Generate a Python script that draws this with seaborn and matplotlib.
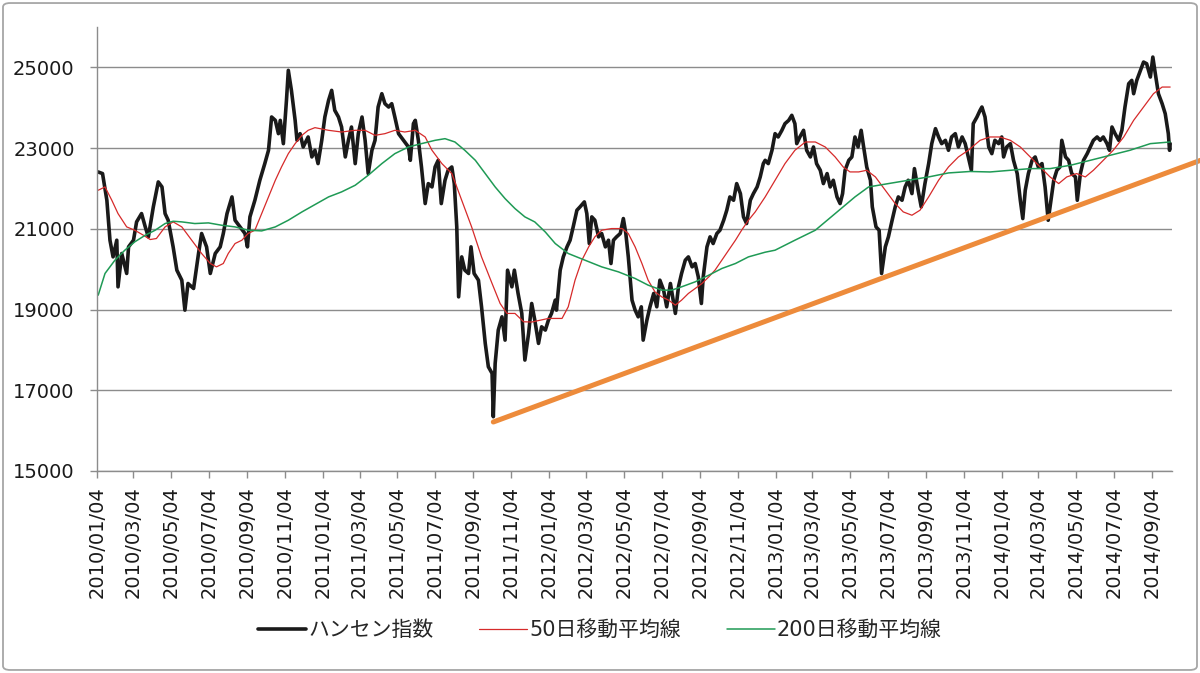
import pandas as pd
import seaborn as sns
import matplotlib.pyplot as plt
import matplotlib.dates as mdates
from matplotlib.patches import FancyBboxPatch

START = pd.Timestamp('2010-01-04')

# Hang Seng index (days since 2010/01/04, level)
hsi_days = [2, 9, 16, 21, 26, 32, 34, 40, 48, 51, 59, 64, 72, 78, 83, 91, 99, 105, 110, 115,
            123, 129, 137, 142, 147, 156, 164, 169, 177, 183, 191, 199, 204, 210, 218, 223, 231, 239, 243, 247,
            255, 263, 271, 277, 282, 288, 293, 296, 301, 306, 309, 314, 320, 323, 328, 333, 341, 347, 352, 357,
            363, 368, 374, 379, 384, 390, 395, 401, 406, 411, 417, 422, 428, 433, 438, 444, 449, 454, 460, 465,
            471, 476, 481, 487, 495, 503, 506, 511, 514, 519, 524, 530, 535, 541, 546, 551, 556, 562, 567, 573,
            577, 581, 584, 589, 594, 600, 604, 609, 616, 621, 627, 632, 638, 640, 643, 648, 654, 659, 663, 670,
            674, 680, 686, 691, 697, 702, 707, 713, 718, 724, 729, 734, 740, 742, 748, 753, 759, 764, 769, 775,
            780, 787, 791, 795, 799, 804, 810, 815, 821, 826, 830, 834, 839, 845, 850, 854, 858, 864, 869, 874,
            879, 882, 888, 893, 899, 904, 909, 915, 920, 926, 934, 939, 944, 950, 955, 961, 966, 971, 976, 979,
            985, 990, 995, 1001, 1006, 1012, 1017, 1022, 1028, 1033, 1039, 1044, 1049, 1055, 1060, 1066, 1071, 1076, 1079, 1084,
            1090, 1095, 1100, 1106, 1111, 1117, 1122, 1127, 1130, 1135, 1141, 1146, 1152, 1157, 1162, 1168, 1173, 1179, 1184, 1189,
            1195, 1200, 1204, 1208, 1214, 1219, 1224, 1229, 1234, 1238, 1243, 1249, 1252, 1258, 1263, 1267, 1273, 1278, 1284, 1289,
            1294, 1300, 1305, 1310, 1316, 1320, 1326, 1331, 1337, 1343, 1348, 1354, 1359, 1364, 1370, 1375, 1380, 1386, 1391, 1397,
            1402, 1407, 1412, 1415, 1421, 1426, 1429, 1434, 1440, 1445, 1450, 1456, 1461, 1464, 1469, 1475, 1480, 1486, 1491, 1495,
            1499, 1504, 1510, 1515, 1520, 1526, 1531, 1536, 1539, 1545, 1550, 1555, 1558, 1564, 1569, 1574, 1580, 1583, 1588, 1593,
            1599, 1604, 1609, 1615, 1620, 1625, 1631, 1635, 1639, 1644, 1650, 1655, 1660, 1666, 1671, 1674, 1679, 1685, 1690, 1695,
            1701, 1705, 1709, 1714, 1720, 1725, 1730, 1732, 1733]
hsi_vals = [22408, 22368, 21707, 20717, 20304, 20717, 19562, 20388, 19893, 20552, 20717, 21171, 21377, 21047, 20800, 21542, 22161, 22037, 21377, 21212,
            20552, 19975, 19727, 18985, 19645, 19521, 20388, 20883, 20552, 19893, 20388, 20552, 20883, 21377, 21790, 21212, 21047, 20883, 20552, 21295,
            21707, 22202, 22615, 22945, 23770, 23687, 23357, 23687, 23110, 24182, 24925, 24430, 23687, 23192, 23357, 23027, 23275, 22780, 22945, 22615,
            23192, 23770, 24182, 24430, 23935, 23770, 23522, 22780, 23192, 23522, 22615, 23357, 23770, 23192, 22368, 22945, 23192, 24017, 24347, 24100,
            24017, 24100, 23770, 23357, 23192, 23027, 22697, 23605, 23687, 23192, 22532, 21625, 22120, 22037, 22532, 22697, 21625, 22202, 22450, 22532,
            22120, 21047, 19314, 20304, 19975, 19893, 20552, 19893, 19727, 19067, 18160, 17582, 17418, 16344, 17666, 18490, 18819, 18242, 19975, 19562,
            19975, 19398, 18903, 17748, 18408, 19150, 18737, 18160, 18572, 18490, 18737, 18903, 19232, 18985, 19975, 20304, 20552, 20717, 21047, 21460,
            21542, 21666, 21377, 20635, 21295, 21212, 20800, 20883, 20552, 20717, 20140, 20717, 20800, 20883, 21254, 20883, 20304, 19232, 18985, 18819,
            19067, 18242, 18737, 19067, 19398, 19067, 19727, 19480, 19067, 19645, 18903, 19562, 19893, 20222, 20304, 20057, 20140, 19810, 19150, 19810,
            20552, 20800, 20635, 20883, 20965, 21212, 21460, 21790, 21707, 22120, 21872, 21295, 21130, 21707, 21872, 22037, 22285, 22615, 22697, 22615,
            22945, 23357, 23275, 23440, 23605, 23687, 23811, 23605, 23110, 23275, 23440, 22945, 22780, 23027, 22615, 22450, 22120, 22368, 22037, 22202,
            21790, 21625, 21872, 22450, 22697, 22780, 23275, 23027, 23440, 23027, 22532, 22202, 21542, 21047, 20965, 19893, 20552, 20800, 21212, 21542,
            21790, 21707, 22037, 22202, 21872, 22491, 21955, 21542, 22120, 22615, 23110, 23481, 23275, 23110, 23192, 22945, 23275, 23357, 23027, 23275,
            23110, 22780, 22450, 23605, 23770, 23935, 24017, 23770, 23027, 22862, 23192, 23110, 23275, 22780, 23027, 23110, 22697, 22368, 21707, 21254,
            21955, 22368, 22697, 22780, 22532, 22615, 22037, 21212, 21542, 22202, 22450, 22532, 23192, 22780, 22697, 22368, 22285, 21707, 22368, 22697,
            22862, 23027, 23192, 23275, 23192, 23275, 23110, 22945, 23522, 23357, 23192, 23440, 24017, 24595, 24677, 24347, 24677, 24925, 25131, 25090,
            24760, 25255, 24842, 24347, 24100, 23852, 23357, 22945, 23110]

# 50-day moving average
ma50_days = [2, 13, 24, 34, 48, 61, 75, 86, 96, 110, 123, 137, 153, 169, 183, 193, 204, 212, 223, 234,
             244, 255, 266, 277, 288, 298, 309, 320, 331, 341, 352, 374, 395, 417, 433, 449, 465, 481, 497, 514,
             530, 541, 557, 573, 589, 605, 621, 638, 651, 662, 675, 689, 702, 729, 751, 761, 772, 783, 794, 804,
             815, 831, 848, 858, 869, 880, 890, 901, 912, 923, 934, 944, 955, 966, 977, 988, 998, 1009, 1020, 1031,
             1041, 1052, 1063, 1079, 1095, 1111, 1127, 1144, 1160, 1176, 1192, 1205, 1216, 1230, 1243, 1257, 1273, 1289, 1302, 1316,
             1329, 1343, 1359, 1375, 1391, 1407, 1426, 1442, 1458, 1475, 1491, 1507, 1523, 1539, 1553, 1566, 1582, 1596, 1609, 1625,
             1641, 1658, 1674, 1690, 1706, 1720, 1733]
ma50_vals = [21955, 22037, 21707, 21377, 21047, 20965, 20841, 20734, 20759, 21047, 21171, 21047, 20717, 20388, 20140, 20057, 20140, 20388, 20635, 20717,
             20883, 20965, 21377, 21790, 22202, 22532, 22862, 23110, 23316, 23440, 23506, 23440, 23398, 23440, 23440, 23316, 23357, 23440, 23398, 23440,
             23275, 22945, 22615, 22368, 21707, 21047, 20304, 19645, 19150, 18903, 18903, 18696, 18690, 18779, 18779, 19067, 19727, 20222, 20552, 20800,
             20965, 21006, 21006, 20883, 20552, 20140, 19727, 19438, 19314, 19232, 19109, 19232, 19398, 19521, 19645, 19810, 19975, 20222, 20470, 20717,
             20965, 21212, 21420, 21790, 22202, 22615, 22945, 23151, 23151, 23027, 22780, 22532, 22409, 22409, 22450, 22285, 21955, 21625, 21418, 21336,
             21460, 21790, 22202, 22532, 22780, 22945, 23192, 23275, 23275, 23192, 23027, 22780, 22532, 22285, 22120, 22285, 22368, 22285, 22450, 22697,
             22945, 23275, 23687, 24017, 24347, 24512, 24512]

# 200-day moving average
ma200_days = [2, 13, 29, 45, 61, 78, 94, 110, 123, 137, 158, 180, 201, 223, 244, 266, 288, 309, 331, 352,
              374, 395, 417, 438, 460, 481, 503, 524, 546, 562, 578, 594, 611, 627, 643, 659, 675, 691, 707, 724,
              740, 761, 788, 815, 842, 869, 890, 912, 928, 944, 966, 988, 1009, 1031, 1052, 1079, 1095, 1127, 1160, 1192,
              1224, 1246, 1278, 1310, 1343, 1375, 1410, 1442, 1475, 1507, 1539, 1572, 1604, 1636, 1668, 1701, 1733]
ma200_vals = [19356, 19893, 20222, 20470, 20676, 20841, 20965, 21130, 21187, 21171, 21130, 21146, 21089, 21047, 20965, 20948, 21047, 21212, 21418, 21600,
              21790, 21914, 22079, 22326, 22615, 22862, 23027, 23110, 23192, 23233, 23151, 22945, 22697, 22368, 22037, 21748, 21501, 21295, 21170, 20920,
              20635, 20388, 20222, 20057, 19933, 19769, 19604, 19480, 19480, 19562, 19686, 19851, 20016, 20140, 20304, 20420, 20470, 20717, 20965, 21377,
              21790, 22037, 22120, 22202, 22285, 22384, 22420, 22408, 22450, 22491, 22491, 22574, 22697, 22821, 22945, 23110, 23151]

# support line drawn from the 2011 low
trend_days = [640, 1782]
trend_vals = [16213, 22697]


def to_dates(days):
    return START + pd.to_timedelta(days, unit='D')


sns.set_theme(style='white')
plt.rcParams['font.family'] = ['DejaVu Sans', 'Noto Sans CJK JP']

fig, ax = plt.subplots(figsize=(12, 6.73), dpi=100)
fig.subplots_adjust(left=0.0808, right=0.9767, bottom=0.3002, top=0.9599)

sns.lineplot(x=to_dates(hsi_days), y=hsi_vals, color='#1a1a1a', linewidth=2.6,
             estimator=None, label='ハンセン指数', ax=ax)
sns.lineplot(x=to_dates(ma50_days), y=ma50_vals, color='#d62a2a', linewidth=0.9,
             estimator=None, label='50日移動平均線', ax=ax)
sns.lineplot(x=to_dates(ma200_days), y=ma200_vals, color='#1f9a55', linewidth=1.1,
             estimator=None, label='200日移動平均線', ax=ax)
sns.lineplot(x=to_dates(trend_days), y=trend_vals, color='#ed8b3b', linewidth=3.6,
             estimator=None, legend=False, ax=ax)
ax.lines[-1].set_clip_on(False)

ax.set_xlim(START, START + pd.Timedelta(days=1736))
ax.set_ylim(15000, 26000)
ax.set_yticks(range(15000, 25001, 2000))
ax.xaxis.set_major_locator(mdates.MonthLocator(bymonth=[1, 3, 5, 7, 9, 11], bymonthday=4))
ax.xaxis.set_major_formatter(mdates.DateFormatter('%Y/%m/%d'))
ax.set_xlabel('')
ax.set_ylabel('')

ax.yaxis.grid(True, color='#8c8c8c', linewidth=1)
ax.xaxis.grid(False)
for side in ['top', 'right']:
    ax.spines[side].set_visible(False)
for side in ['left', 'bottom']:
    ax.spines[side].set_color('#8c8c8c')
    ax.spines[side].set_linewidth(1)

ax.tick_params(axis='both', bottom=True, left=True, length=5, width=1, color='#8c8c8c',
               labelsize=14, labelcolor='#1a1a1a')
ax.tick_params(axis='y', pad=11)
ax.tick_params(axis='x', pad=6, labelrotation=90)

handles, labels = ax.get_legend_handles_labels()
ax.get_legend().remove()
fig.legend(handles, labels, loc='center', bbox_to_anchor=(0.5, 0.064), ncol=3, frameon=False,
           fontsize=15, handlelength=2.3, handletextpad=0.1, columnspacing=2.2)

fig.patches.append(FancyBboxPatch((0.0025, 0.0045), 0.995, 0.991, boxstyle='round,pad=0,rounding_size=0.006',
                                  transform=fig.transFigure, fill=False, edgecolor='#a6a6a6', linewidth=1.3))

fig.savefig('out.png', dpi=100)
